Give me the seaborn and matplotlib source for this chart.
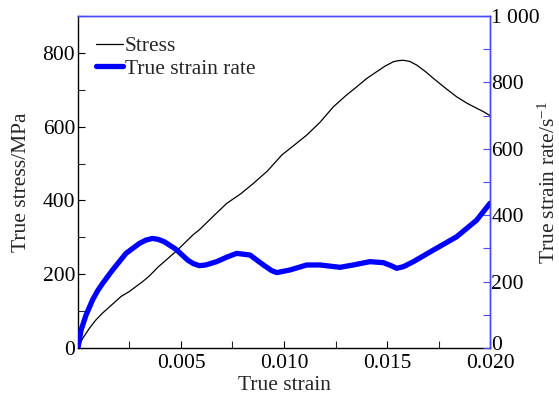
import numpy as np
import pandas as pd
import matplotlib
matplotlib.use("Agg")
import matplotlib.pyplot as plt
import matplotlib.transforms as mtransforms
import seaborn as sns
from matplotlib.ticker import MultipleLocator, FixedLocator, FixedFormatter
from matplotlib.lines import Line2D

# Stress–strain response (true strain, true stress in MPa)
stress_strain = [0.0, 0.00023, 0.00055, 0.00087, 0.00120, 0.00160, 0.00210, 0.00249,
                 0.00314, 0.00346, 0.00390, 0.00427, 0.00484, 0.00557, 0.00592,
                 0.00662, 0.00722, 0.00790, 0.00851, 0.00920, 0.00989, 0.01050,
                 0.01110, 0.01175, 0.01240, 0.01300, 0.01353, 0.01400, 0.01450,
                 0.01490, 0.01531, 0.01555, 0.01579, 0.01610, 0.01644, 0.01685,
                 0.01725, 0.01780, 0.01838, 0.01890, 0.01935, 0.01970, 0.02000]
stress_mpa = [0, 26, 53, 76, 95, 115, 140, 153, 180, 195, 220, 238, 266, 306, 322,
              360, 392, 418, 446, 480, 523, 550, 577, 612, 654, 684, 708, 730, 749,
              764, 776, 779, 780, 777, 767, 750, 731, 706, 681, 663, 650, 640, 630]

# True strain rate history (1/s)
rate_strain = [0.0, 0.00015, 0.00039, 0.00071, 0.00095, 0.00120, 0.00168, 0.00233,
               0.00298, 0.00330, 0.00362, 0.00390, 0.00419, 0.00476, 0.00532,
               0.00560, 0.00589, 0.00620, 0.00673, 0.00720, 0.00770, 0.00835,
               0.00900, 0.00940, 0.00965, 0.01029, 0.01110, 0.01175, 0.01272,
               0.01336, 0.01417, 0.01482, 0.01520, 0.01547, 0.01580, 0.01628,
               0.01725, 0.01838, 0.01935, 0.02000]
rate_per_s = [0, 54, 99, 145, 172, 195, 235, 285, 315, 325, 330, 327, 320, 297, 265,
              254, 248, 250, 260, 273, 285, 280, 250, 233, 227, 235, 250, 250, 243,
              250, 260, 257, 248, 240, 245, 260, 295, 335, 385, 436]

x_ticks = [0.005, 0.010, 0.015, 0.020]
x_tick_labels = ["0.005", "0.010", "0.015", "0.020"]
left_ticks = [0, 200, 400, 600, 800]
right_ticks = [0, 200, 400, 600, 800, 1000]
right_tick_labels = ["0", "200", "400", "600", "800", "1 000"]

stress_df = pd.DataFrame({"strain": stress_strain, "stress": stress_mpa})
rate_df = pd.DataFrame({"strain": rate_strain, "rate": rate_per_s})

sns.set_style("ticks")
plt.rcParams["font.family"] = ["Liberation Serif", "DejaVu Serif"]
plt.rcParams["mathtext.fontset"] = "custom"
plt.rcParams["mathtext.rm"] = "Liberation Serif"
plt.rcParams["mathtext.it"] = "Liberation Serif:italic"
FS = 15.5
plt.rcParams["font.size"] = FS

BLUE = "#0000ff"
SPINE_BLUE = "#4848ff"

fig = plt.figure(figsize=(5.59, 3.94), dpi=100)
ax = fig.add_axes([0.1395, 0.1168, 0.7371, 0.8426])
ax2 = ax.twinx()

sns.lineplot(data=stress_df, x="strain", y="stress", ax=ax, color="black",
             linewidth=0.9, estimator=None, sort=False)
sns.lineplot(data=rate_df, x="strain", y="rate", ax=ax2, color=BLUE,
             linewidth=3.8, estimator=None, sort=False)

ax.set_xlim(0, 0.020)
ax.set_ylim(0, 900)
ax2.set_ylim(0, 1000)

ax.xaxis.set_major_locator(FixedLocator(x_ticks))
ax.xaxis.set_major_formatter(FixedFormatter(x_tick_labels))
ax.xaxis.set_minor_locator(MultipleLocator(0.0025))
ax.yaxis.set_major_locator(FixedLocator(left_ticks))
ax.yaxis.set_minor_locator(MultipleLocator(100))
ax2.yaxis.set_major_locator(FixedLocator(right_ticks))
ax2.yaxis.set_major_formatter(FixedFormatter(right_tick_labels))
ax2.yaxis.set_minor_locator(MultipleLocator(100))

ax.tick_params(axis="both", which="major", direction="in", length=5, width=0.8,
               labelsize=FS, pad=2, colors="black")
ax.tick_params(axis="both", which="minor", direction="in", length=5, width=0.8)
ax.tick_params(axis="x", which="major", pad=4)
ax2.tick_params(axis="y", which="both", direction="in", length=5, width=0.8,
                color=SPINE_BLUE, labelcolor="black", labelsize=FS, pad=1)

for a in (ax, ax2):
    a.spines["left"].set_color("black")
    a.spines["bottom"].set_color("black")
    a.spines["top"].set_color(SPINE_BLUE)
    a.spines["right"].set_color(SPINE_BLUE)
    for s in a.spines.values():
        s.set_linewidth(1.0)
ax2.spines["left"].set_visible(False)
ax2.spines["bottom"].set_visible(False)

# lift the right-hand zero a little so it clears the x tick labels
fig.canvas.draw()
zero_label = ax2.get_yticklabels()[0]
zero_label.set_transform(zero_label.get_transform() +
                         mtransforms.ScaledTranslation(0, 5 / 100, fig.dpi_scale_trans))

ax.set_xlabel("True strain", fontsize=FS)
ax.xaxis.set_label_coords(0.5, -0.085)
ax.set_ylabel("True stress/MPa", fontsize=FS)
ax.yaxis.set_label_coords(-0.115, 0.5)
ax2.set_ylabel("True strain rate/s$^{-1}$", fontsize=FS)
ax2.yaxis.set_label_coords(1.117, 0.5)

handles = [Line2D([], [], color="black", linewidth=0.9),
           Line2D([], [], color=BLUE, linewidth=3.8)]
ax.legend(handles, ["Stress", "True strain rate"], loc="upper left",
          bbox_to_anchor=(0.022, 0.965), frameon=False, fontsize=FS,
          handlelength=1.25, handletextpad=0.1, labelspacing=0.1,
          borderaxespad=0.0)

fig.savefig("out.png", dpi=100)
